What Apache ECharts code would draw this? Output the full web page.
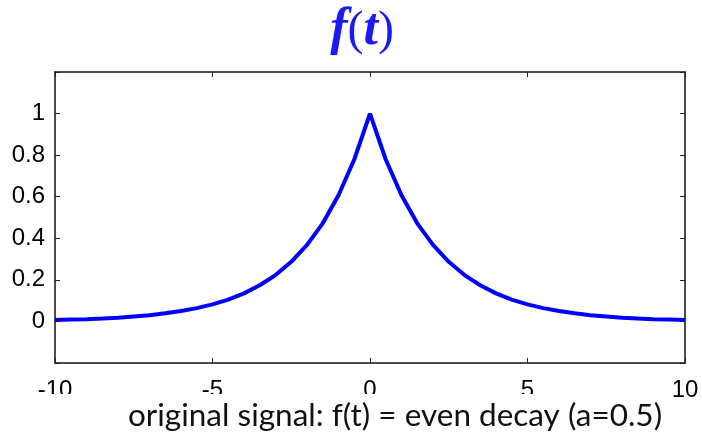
<!DOCTYPE html>
<html>
<head>
<meta charset="utf-8">
<script src="https://cdn.jsdelivr.net/npm/echarts@6/dist/echarts.min.js"></script>
<style>
  html, body { margin: 0; padding: 0; background: #fff; }
  #chart { width: 702px; height: 440px; }
</style>
</head>
<body>
<div id="chart"></div>
<script>
// Sample times t and signal values f(t) for the even decaying signal
const times = [-10, -9.5, -9, -8.5, -8, -7.5, -7, -6.5, -6, -5.5, -5, -4.5, -4, -3.5, -3, -2.5, -2, -1.5, -1, -0.5,
  0, 0.5, 1, 1.5, 2, 2.5, 3, 3.5, 4, 4.5, 5, 5.5, 6, 6.5, 7, 7.5, 8, 8.5, 9, 9.5, 10];
const values = [0.007, 0.009, 0.011, 0.014, 0.018, 0.024, 0.030, 0.039, 0.050, 0.064, 0.082, 0.105, 0.135, 0.174, 0.223, 0.287, 0.368, 0.472, 0.607, 0.779,
  1.0, 0.779, 0.607, 0.472, 0.368, 0.287, 0.223, 0.174, 0.135, 0.105, 0.082, 0.064, 0.050, 0.039, 0.030, 0.024, 0.018, 0.014, 0.011, 0.009, 0.007];
const xTicks = [-10, -5, 0, 5, 10];
const yTicks = [0, 0.2, 0.4, 0.6, 0.8, 1];

const captionText = 'original signal: f(t) = even decay (a=0.5)';

const chart = echarts.init(document.getElementById('chart'));

const tickStyle = { show: true, inside: true, length: 5, lineStyle: { color: '#222', width: 1 } };
const lineStyle = { color: '#111', width: 1.5 };
const labelFont = '"Liberation Sans", Arial, sans-serif';

const fmtY = v => {
  const r = Math.round(v * 10) / 10;
  return yTicks.some(t => Math.abs(t - r) < 1e-9) ? String(r) : '';
};

const titleShadow = { shadowColor: 'rgba(0,0,0,0.35)', shadowBlur: 4, shadowOffsetX: 2, shadowOffsetY: 3 };

chart.setOption({
  animation: false,
  backgroundColor: '#fff',
  grid: { left: 55, right: 17, top: 72, bottom: 77 },
  xAxis: [
    {
      type: 'value', min: -10, max: 10, interval: 5, position: 'bottom',
      axisLine: { show: true, onZero: false, lineStyle },
      axisTick: tickStyle,
      splitLine: { show: false },
      axisLabel: {
        color: '#000', fontFamily: labelFont, fontSize: 24, margin: 15,
        formatter: v => xTicks.includes(v) ? String(v) : ''
      }
    },
    {
      type: 'value', min: -10, max: 10, interval: 5, position: 'top',
      axisLine: { show: true, onZero: false, lineStyle },
      axisTick: tickStyle, axisLabel: { show: false }, splitLine: { show: false }
    }
  ],
  yAxis: [
    {
      type: 'value', min: -0.2, max: 1.2, interval: 0.2, position: 'left',
      axisLine: { show: true, onZero: false, lineStyle },
      axisTick: tickStyle,
      splitLine: { show: false },
      axisLabel: { color: '#000', fontFamily: labelFont, fontSize: 24, margin: 10, formatter: fmtY }
    },
    {
      type: 'value', min: -0.2, max: 1.2, interval: 0.2, position: 'right',
      axisLine: { show: true, onZero: false, lineStyle },
      axisTick: tickStyle, axisLabel: { show: false }, splitLine: { show: false }
    }
  ],
  series: [{
    type: 'line',
    data: times.map((t, i) => [t, values[i]]),
    showSymbol: false,
    smooth: false,
    lineStyle: { color: '#0000ff', width: 4 },
    itemStyle: { color: '#0000ff' },
    z: 3
  }],
  graphic: [
    {
      type: 'text', x: 362, y: 31, z: 10,
      style: {
        text: '{it|f}{pa|(}{it|t}{pa|)}',
        textAlign: 'center', textVerticalAlign: 'middle',
        rich: {
          it: Object.assign({ font: 'italic bold 52px "Liberation Serif", serif', fill: '#1a1af5' }, titleShadow),
          pa: Object.assign({ font: '48px "Liberation Serif", serif', fill: '#1a1af5' }, titleShadow)
        }
      }
    },
    {
      type: 'rect', z: 20,
      shape: { x: 0, y: 394, width: 662, height: 46 },
      style: { fill: '#fff' }
    },
    {
      type: 'text', z: 21, x: 395, y: 416,
      style: {
        text: captionText,
        font: '31.5px Lato, sans-serif',
        fill: '#111',
        textAlign: 'center', textVerticalAlign: 'middle'
      }
    }
  ]
});
</script>
</body>
</html>
